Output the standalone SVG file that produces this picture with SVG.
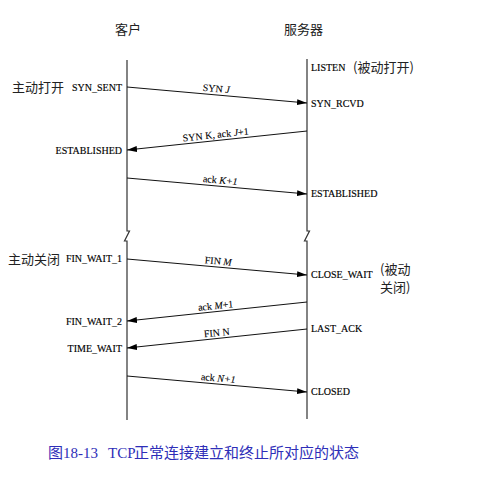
<svg xmlns="http://www.w3.org/2000/svg" width="492" height="478" viewBox="0 0 492 478">
<defs>
<marker id="ah" viewBox="0 0 10 6" refX="10" refY="3" markerWidth="10" markerHeight="6" markerUnits="userSpaceOnUse" orient="auto">
<path d="M0,0 L10,3 L0,6 Z" fill="#000"/>
</marker>
<style>
.life{fill:none;stroke:#333;stroke-width:1.2}
.msg{fill:none;stroke:#111;stroke-width:1;marker-end:url(#ah)}
.st{font-family:"Liberation Serif",serif;font-size:10px;fill:#000;stroke:#000;stroke-width:0.15}
.lb{font-family:"Liberation Serif",serif;font-size:10px;fill:#000;text-anchor:middle;stroke:#000;stroke-width:0.1}
.cj{font-family:"Noto Sans CJK SC",sans-serif;font-size:13px;fill:#222}
.cap{font-family:"Liberation Serif","Noto Sans CJK SC",serif;font-size:15px;fill:#2e2eb8}
.capc{font-family:"Noto Sans CJK SC",sans-serif;font-size:15px;fill:#2e2eb8}
.r{text-anchor:end}
</style>
</defs>
<rect width="492" height="478" fill="#fff"/>

<g id="client">
<text class="cj" x="128" y="33.5" text-anchor="middle">客户</text>
<path class="life" d="M127,60 V231 H129.5 L124.5,241 H127 V420"/>
<text class="cj" x="12" y="91.5">主动打开</text>
<text class="st r" x="122" y="90.5">SYN_SENT</text>
<text class="st r" x="122" y="153.5">ESTABLISHED</text>
<text class="cj" x="8" y="263.5">主动关闭</text>
<text class="st r" x="122" y="261.5">FIN_WAIT_1</text>
<text class="st r" x="122" y="324.5">FIN_WAIT_2</text>
<text class="st r" x="122" y="351.5">TIME_WAIT</text>
</g>

<g id="server">
<text class="cj" x="303.5" y="33.5" text-anchor="middle">服务器</text>
<path class="life" d="M307,59 V231 H309.5 L304.5,241 H307 V419"/>
<text class="st" x="311" y="70.5">LISTEN</text>
<text class="cj" x="353" y="71.5">(被动打开)</text>
<text class="st" x="311" y="106.5">SYN_RCVD</text>
<text class="st" x="311" y="196.5">ESTABLISHED</text>
<text class="st" x="311" y="277.5">CLOSE_WAIT</text>
<text class="cj" x="380" y="273.5">(被动</text>
<text class="cj" x="380" y="291.5">关闭)</text>
<text class="st" x="311" y="331.5">LAST_ACK</text>
<text class="st" x="311" y="395">CLOSED</text>
</g>

<g id="connectors">
<line class="msg" x1="127" y1="87" x2="307" y2="103"/>
<text class="lb" x="216" y="92" transform="rotate(5.08 216 92)">SYN <tspan font-style="italic">J</tspan></text>

<line class="msg" x1="307" y1="131" x2="127" y2="150"/>
<text class="lb" x="216" y="138" transform="rotate(-6.03 216 138)">SYN K, ack <tspan font-style="italic">J</tspan>+1</text>

<line class="msg" x1="127" y1="178" x2="307" y2="194"/>
<text class="lb" x="220" y="183.5" transform="rotate(5.08 220 183.5)">ack <tspan font-style="italic">K+1</tspan></text>

<line class="msg" x1="127" y1="259" x2="307" y2="275"/>
<text class="lb" x="218" y="264.5" transform="rotate(5.08 218 264.5)">FIN <tspan font-style="italic">M</tspan></text>

<line class="msg" x1="307" y1="302" x2="127" y2="321"/>
<text class="lb" x="216" y="309" transform="rotate(-6.03 216 309)">ack <tspan font-style="italic">M</tspan>+1</text>

<line class="msg" x1="307" y1="329" x2="127" y2="348"/>
<text class="lb" x="217" y="336" transform="rotate(-6.03 217 336)">FIN N</text>

<line class="msg" x1="127" y1="376" x2="307" y2="392"/>
<text class="lb" x="218" y="381.5" transform="rotate(5.08 218 381.5)">ack <tspan font-style="italic">N+1</tspan></text>
</g>

<g id="caption">
<text class="capc" x="48" y="458">图</text>
<text class="cap" x="63" y="458">18-13</text>
<text class="cap" x="108" y="458">TCP</text>
<text class="capc" x="134" y="458">正常连接建立和终止所对应的状态</text>
</g>
</svg>
